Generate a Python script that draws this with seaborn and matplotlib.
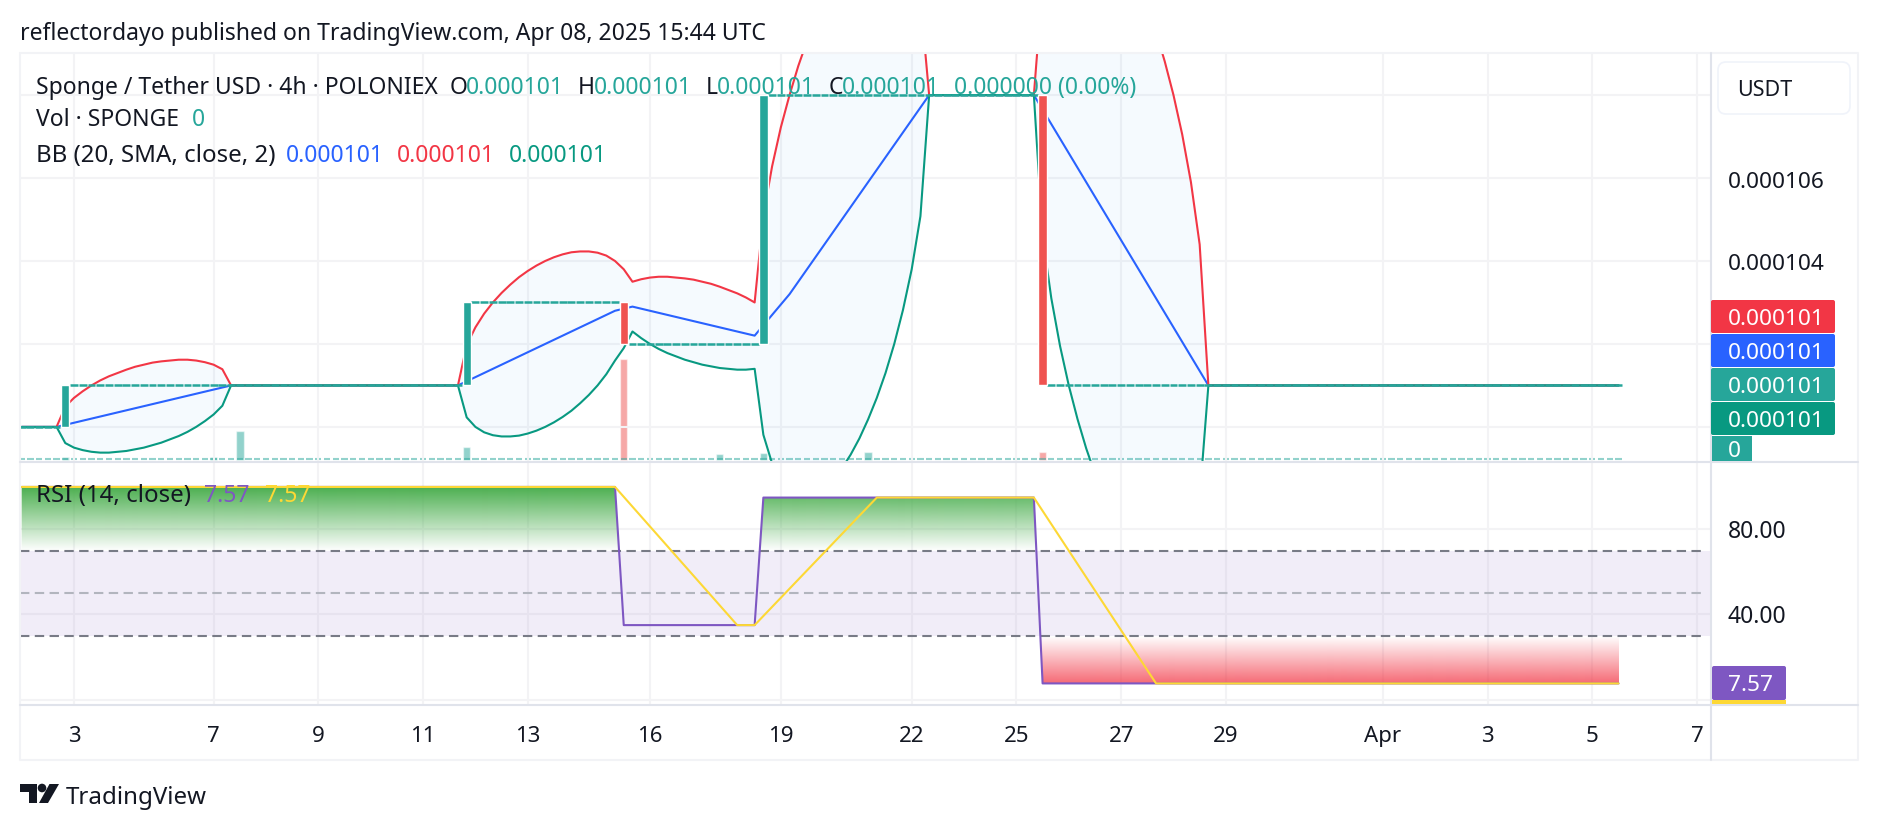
import numpy as np
import pandas as pd
import matplotlib
matplotlib.use("Agg")
import matplotlib.pyplot as plt
import matplotlib.transforms as mtrans
import seaborn as sns
from matplotlib.patches import FancyBboxPatch, Polygon, Circle, Rectangle
from matplotlib.path import Path

# prices are in units of 1e-6 USDT, x is the bar number (4h bars, 0 = Mar 3)
bars = list(range(-6, 178))
tick_bars = [0, 16, 28, 40, 52, 66, 81, 96, 108, 120, 132, 150, 162, 174, 186]
tick_labels = ["3", "7", "9", "11", "13", "16", "19", "22", "25", "27", "29", "Apr", "3", "5", "7"]

open_price = [100] * 6 + [101] * 46 + [103] * 18 + [102] * 16 + [108] * 32 + [101] * 66
close_price = [100] * 5 + [101] * 46 + [103] * 18 + [102] * 16 + [108] * 32 + [101] * 67

bb_basis = (
    [100.0] * 5
    + [100.05, 100.1, 100.15, 100.2, 100.25, 100.3, 100.35, 100.4, 100.45, 100.5,
       100.55, 100.6, 100.65, 100.7, 100.75, 100.8, 100.85, 100.9, 100.95, 101.0]
    + [101.0] * 26
    + [101.1, 101.2, 101.3, 101.4, 101.5, 101.6, 101.7, 101.8, 101.9, 102.0,
       102.1, 102.2, 102.3, 102.4, 102.5, 102.6, 102.7, 102.8, 102.85]
    + [102.9, 102.85, 102.8, 102.75, 102.7, 102.65, 102.6, 102.55, 102.5,
       102.45, 102.4, 102.35, 102.3, 102.25, 102.2]
    + [102.45, 102.7, 102.95, 103.2, 103.5, 103.8, 104.1, 104.4, 104.7, 105.0,
       105.3, 105.6, 105.9, 106.2, 106.5, 106.8, 107.1, 107.4, 107.7]
    + [108.0] * 13
    + [107.65, 107.3, 106.95, 106.6, 106.25, 105.9, 105.55, 105.2, 104.85, 104.5,
       104.15, 103.8, 103.45, 103.1, 102.75, 102.4, 102.05, 101.7, 101.35]
    + [101.0] * 48
)
bb_upper = (
    [100.0] * 5
    + [100.49, 100.7, 100.86, 101.0, 101.12, 101.22, 101.3, 101.38, 101.45, 101.5,
       101.55, 101.58, 101.6, 101.62, 101.62, 101.6, 101.56, 101.5, 101.39, 101.0]
    + [101.0] * 26
    + [101.97, 102.4, 102.73, 103.0, 103.23, 103.43, 103.61, 103.76, 103.89, 104.0,
       104.09, 104.16, 104.21, 104.23, 104.23, 104.2, 104.13, 104.0, 103.8]
    + [103.5, 103.56, 103.6, 103.62, 103.62, 103.6, 103.58, 103.55, 103.5,
       103.45, 103.38, 103.3, 103.22, 103.12, 103.0]
    + [105.09, 106.28, 107.22, 108.0, 108.7, 109.3, 109.82, 110.28, 110.67, 111.0,
       111.27, 111.48, 111.62, 111.7, 111.7, 111.6, 111.39, 111.0, 110.32]
    + [108.0] * 13
    + [110.7, 111.5, 111.95, 112.2, 112.31, 112.32, 112.23, 112.06, 111.82, 111.5,
       111.12, 110.66, 110.13, 109.52, 108.81, 108.0, 107.05, 105.9, 104.4]
    + [101.0] * 48
)
bb_lower = (
    [100.0] * 5
    + [99.61, 99.5, 99.44, 99.4, 99.38, 99.38, 99.4, 99.42, 99.46, 99.5,
       99.56, 99.62, 99.7, 99.78, 99.88, 100.0, 100.14, 100.3, 100.51, 101.0]
    + [101.0] * 26
    + [100.23, 100.0, 99.87, 99.8, 99.77, 99.77, 99.79, 99.84, 99.91, 100.0,
       100.11, 100.24, 100.39, 100.57, 100.77, 101.0, 101.27, 101.6, 101.9]
    + [102.3, 102.14, 102.0, 101.88, 101.78, 101.7, 101.62, 101.56, 101.5,
       101.46, 101.42, 101.4, 101.38, 101.38, 101.4]
    + [99.81, 99.12, 98.69, 98.4, 98.3, 98.3, 98.38, 98.52, 98.73, 99.0,
       99.33, 99.72, 100.18, 100.7, 101.3, 102.0, 102.82, 103.8, 105.08]
    + [108.0] * 13
    + [104.6, 103.1, 101.95, 101.0, 100.19, 99.48, 98.87, 98.34, 97.89, 97.5,
       97.19, 96.94, 96.77, 96.68, 96.69, 96.8, 97.05, 97.5, 98.3]
    + [101.0] * 48
)

vol_bars = [-1, 16, 19, 45, 63, 74, 79, 91, 111]
vol_values = [3, 3, 29, 13, 101, 6, 7, 8, 8]
vol_down = [False, False, False, False, True, False, False, False, True]

rsi = [100.0] * 69 + [35.0] * 16 + [95.0] * 32 + [7.57] * 67
rsi_ma = (
    [100.0] * 69
    + [95.36, 90.71, 86.07, 81.43, 76.79, 72.14, 67.5, 62.86, 58.21, 53.57, 48.93, 44.29, 39.64, 35.0]
    + [35.0] * 2
    + [39.29, 43.57, 47.86, 52.14, 56.43, 60.71, 65.0, 69.29, 73.57, 77.86, 82.14, 86.43, 90.71, 95.0]
    + [95.0] * 18
    + [88.76, 82.51, 76.26, 70.02, 63.78, 57.53, 51.29, 45.04, 38.8, 32.55, 26.31, 20.06, 13.82, 7.57]
    + [7.57] * 53
)

W, H = 1878, 830
UP, DOWN = "#26a69a", "#ef5350"
BLUE, RED, GREEN = "#2962ff", "#f23645", "#089981"
PURPLE, YELLOW = "#7e57c2", "#fdd835"
GRID = "#f3f3f5"
BORDER = "#e0e3eb"
TEXT = "#131722"
XLIM = (-6.19, 187.6)


def px_axes(fig, left, top, right, bottom):
    return fig.add_axes([left / W, 1 - bottom / H, (right - left) / W, (bottom - top) / H])


sns.set_theme(style="white")
plt.rcParams["font.family"] = ["Noto Sans", "DejaVu Sans"]
fig = plt.figure(figsize=(W / 100, H / 100), dpi=100, facecolor="white")

ax = px_axes(fig, 20, 53, 1711, 462)
ax_rsi = px_axes(fig, 20, 462, 1711, 705)

df = pd.DataFrame({"bar": bars, "open": open_price, "close": close_price,
                   "basis": bb_basis, "upper": bb_upper, "lower": bb_lower,
                   "rsi": rsi, "rsi_ma": rsi_ma})

# volume on its own scale behind the price
ax_vol = ax.twinx()
ax_vol.set_ylim(-2, 407)
ax_vol.set_yticks([])
ax_vol.grid(False)
ax_vol.set_zorder(0)
ax.set_zorder(1)
ax.patch.set_visible(False)
ax_vol.hlines([0.7] * len(bars), df["bar"] - 0.36, df["bar"] + 0.36, color=UP, alpha=0.5, lw=1.5)
ax_vol.bar(vol_bars, vol_values, width=0.85, color=[DOWN if d else UP for d in vol_down], alpha=0.5)

# bollinger bands
ax.fill_between(df["bar"], df["lower"], df["upper"], color="#2196f3", alpha=0.045, lw=0, zorder=1)
for col, color in [("basis", BLUE), ("upper", RED), ("lower", GREEN)]:
    sns.lineplot(data=df, x="bar", y=col, color=color, linewidth=1.5, estimator=None, ax=ax, zorder=2)

# candles
body = df[df["open"] != df["close"]]
flat = df[df["open"] == df["close"]]
ax.hlines(flat["close"], flat["bar"] - 0.45, flat["bar"] + 0.45, color=UP, lw=1.8, zorder=3)
ax.bar(body["bar"], body["close"] - body["open"], bottom=body["open"], width=0.95,
       color=[UP if c > o else DOWN for o, c in zip(body["open"], body["close"])], zorder=3)

ax.set_xlim(XLIM)
ax.set_ylim(99.154, 109.014)
ax.set_xticks(tick_bars)
ax.set_xticklabels([])
ax.yaxis.tick_right()
ax.set_yticks([108, 106, 104, 102, 100])
ax.set_yticklabels(["", "0.000106", "0.000104", "", ""], fontsize=16.3, color=TEXT)
ax.tick_params(axis="both", length=0, pad=12)
ax.grid(True, color=GRID, lw=1.5)
ax.set_axisbelow(True)
ax.set_xlabel("")
ax.set_ylabel("")
ax_vol.set_ylabel("")
for s in ax.spines.values():
    s.set_visible(False)
for s in ax_vol.spines.values():
    s.set_visible(False)

# RSI pane
ax_rsi.axhspan(30, 70, color=PURPLE, alpha=0.1, lw=0, zorder=1)

rsi_vals = df["rsi"].to_numpy()

grad_up = np.zeros((256, 1, 4))
grad_up[..., :3] = matplotlib.colors.to_rgb("#4caf50")
grad_up[:, 0, 3] = np.linspace(1, 0, 256)
im_up = ax_rsi.imshow(grad_up, extent=[XLIM[0], XLIM[1], 70, 100], aspect="auto", zorder=2)
clip_up = ax_rsi.fill_between(df["bar"], 70, rsi_vals, where=rsi_vals > 70, interpolate=True, color="none")
im_up.set_clip_path(Path.make_compound_path(*clip_up.get_paths()), transform=ax_rsi.transData)

grad_dn = np.zeros((256, 1, 4))
grad_dn[..., :3] = matplotlib.colors.to_rgb(RED)
grad_dn[:, 0, 3] = np.linspace(0, 1, 256)
im_dn = ax_rsi.imshow(grad_dn, extent=[XLIM[0], XLIM[1], 0, 30], aspect="auto", zorder=2)
clip_dn = ax_rsi.fill_between(df["bar"], 30, rsi_vals, where=rsi_vals < 30, interpolate=True, color="none")
im_dn.set_clip_path(Path.make_compound_path(*clip_dn.get_paths()), transform=ax_rsi.transData)

ax_rsi.hlines([70, 30], XLIM[0], 186.6, color="#787b86", lw=1.5, linestyles=(0, (4.5, 2.6)), zorder=3)
ax_rsi.hlines([50], XLIM[0], 186.6, color="#b2b5be", lw=1.5, linestyles=(0, (4.5, 2.6)), zorder=3)

sns.lineplot(data=df, x="bar", y="rsi", color=PURPLE, linewidth=1.5, estimator=None, ax=ax_rsi, zorder=4)
sns.lineplot(data=df, x="bar", y="rsi_ma", color=YELLOW, linewidth=1.5, estimator=None, ax=ax_rsi, zorder=5)

ax_rsi.set_xlim(XLIM)
ax_rsi.set_ylim(-2.585, 111.735)
ax_rsi.set_xticks(tick_bars)
ax_rsi.set_xticklabels(tick_labels, fontsize=16, color=TEXT)
for lab in ax_rsi.get_xticklabels():
    if lab.get_text() == "Apr":
        lab.set_fontweight("semibold")
ax_rsi.yaxis.tick_right()
ax_rsi.set_yticks([80, 40, 0])
ax_rsi.set_yticklabels(["80.00", "40.00", ""], fontsize=16.5, color=TEXT)
ax_rsi.tick_params(axis="y", length=0, pad=12)
ax_rsi.tick_params(axis="x", length=0, pad=15)
ax_rsi.grid(True, color=GRID, lw=1.5)
ax_rsi.set_axisbelow(True)
ax_rsi.set_xlabel("")
ax_rsi.set_ylabel("")
for s in ax_rsi.spines.values():
    s.set_visible(False)

# the price scale labels sit a touch lower than matplotlib centres them
nudge = mtrans.ScaledTranslation(0, -1.5 / 100, fig.dpi_scale_trans)
for lab in ax.get_yticklabels():
    lab.set_transform(lab.get_transform() + nudge)

# overlay in pixel coordinates for the frame, legend and price boxes
ov = fig.add_axes([0, 0, 1, 1], zorder=10)
ov.set_xlim(0, W)
ov.set_ylim(H, 0)
ov.axis("off")

ov.plot([20, 20, 1858, 1858, 20], [53, 760, 760, 53, 53], color="#f2f3f6", lw=1.5, zorder=1)
ov.plot([20, 1858], [462, 462], color=BORDER, lw=1.5, zorder=1)
ov.plot([20, 1858], [705, 705], color=BORDER, lw=1.5, zorder=1)
ov.plot([1711, 1711], [53, 760], color=BORDER, lw=1.5, zorder=1)


def label(x, y, s, color=TEXT, size=16.5, **kw):
    ov.text(x, y + 2.5, s, color=color, fontsize=size, va="center", ha="left", zorder=5, **kw)


label(20, 31, "reflectordayo published on TradingView.com, Apr 08, 2025 15:44 UTC")

label(36, 85, "Sponge / Tether USD · 4h · POLONIEX")
for x, s in [(450, "O"), (578, "H"), (706, "L"), (829, "C")]:
    label(x, 85, s)
for x, s in [(466, "0.000101"), (594, "0.000101"), (717, "0.000101"), (842, "0.000101"), (954, "0.000000 (0.00%)")]:
    label(x, 85, s, color=UP)

label(36, 118, "Vol · SPONGE")
label(192, 118, "0", color=UP)

label(36, 153, "BB (20, SMA, close, 2)", size=17.3)
label(286, 153, "0.000101", color=BLUE)
label(397, 153, "0.000101", color=RED)
label(509, 153, "0.000101", color=GREEN)

label(36, 493, "RSI (14, close)", size=17.3)
label(204, 493, "7.57", color=PURPLE)
label(265, 493, "7.57", color=YELLOW)

# USDT button
ov.add_patch(FancyBboxPatch((1721, 65), 126, 46, boxstyle="round,pad=3,rounding_size=8",
                            fc="white", ec="#f0f3fa", lw=1.2, zorder=2))
label(1737, 88, "USDT", size=15.5)

# last value boxes on the scale
for y0, y1, color in [(300, 333, RED), (334, 367, BLUE), (368, 401, UP), (402, 435, GREEN)]:
    ov.add_patch(FancyBboxPatch((1712, y0 + 1), 122, y1 - y0 - 2, boxstyle="round,pad=1,rounding_size=2",
                                fc=color, ec="none", zorder=3))
    label(1728, (y0 + y1) / 2, "0.000101", color="white", size=16.3)
ov.add_patch(Rectangle((1712, 436), 40, 25, fc=UP, ec="none", zorder=3))
label(1728, 449, "0", color="white", size=16.3)

ov.add_patch(Rectangle((1712, 700), 74, 4, fc=YELLOW, ec="none", zorder=3))
ov.add_patch(FancyBboxPatch((1713, 667), 72, 32, boxstyle="round,pad=1,rounding_size=2",
                            fc=PURPLE, ec="none", zorder=3))
label(1728, 683, "7.57", color="white", size=16.3)

# TradingView logo
ov.add_patch(Polygon([(20, 784), (37, 784), (37, 803), (29, 803), (29, 792), (20, 792)], fc=TEXT, ec="none", zorder=3))
ov.add_patch(Circle((42, 788), 4.3, fc=TEXT, ec="none", zorder=3))
ov.add_patch(Polygon([(49.5, 784), (59, 784), (48, 803), (39, 803)], fc=TEXT, ec="none", zorder=3))
label(66, 795, "TradingView", size=17.3)

fig.savefig("out.png", dpi=100, facecolor="white")
